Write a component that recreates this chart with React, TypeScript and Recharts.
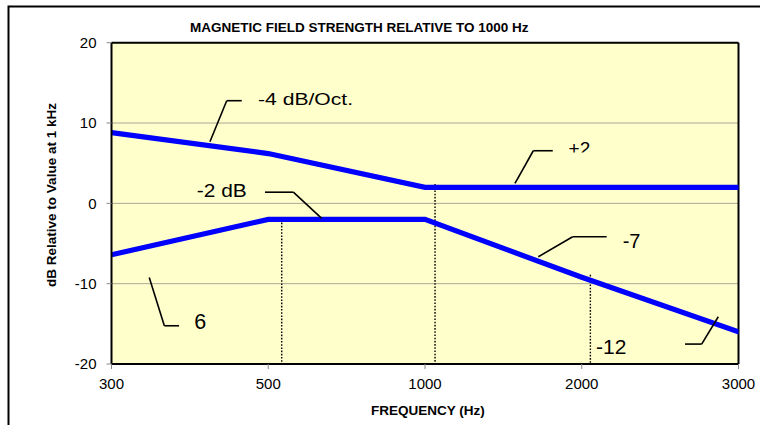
import React from 'react';
import {
  LineChart,
  Line,
  XAxis,
  YAxis,
  CartesianGrid,
  ReferenceLine,
  ReferenceDot,
} from 'recharts';

// ---------- data ----------
const frequencies = ['300', '500', '1000', '2000', '3000'];
const upperSeries = [8.8, 6.2, 2, 2, 2];
const lowerSeries = [-6.4, -2, -2, -9.2, -16];
const yTicks = [-20, -10, 0, 10, 20];
const xTicks = [0, 1, 2, 3, 4];

const chartTitle = 'MAGNETIC FIELD STRENGTH RELATIVE TO 1000 Hz';
const xTitle = 'FREQUENCY (Hz)';
const yTitle = 'dB Relative to Value at 1 kHz';

// annotations, in data space (x = category index, y = dB)
const calloutPaths: number[][][] = [
  [[0.628, 7.67], [0.735, 12.78], [0.831, 12.78]],
  [[0.979, 1.39], [1.16, 1.39], [1.341, -1.87]],
  [[2.574, 2.49], [2.691, 6.55], [2.815, 6.55]],
  [[2.723, -6.65], [2.942, -4.16], [3.159, -4.16]],
  [[0.241, -9.22], [0.337, -15.24], [0.431, -15.24]],
  [[3.871, -14.12], [3.765, -17.52], [3.659, -17.52]],
];
const annotationTexts = ['-4 dB/Oct.', '-2 dB', '+2', '-7', '6', '-12'];
const annotationX = [0.935, 0.544, 2.916, 3.261, 0.528, 3.091];
const annotationY = [12.24, 0.85, 6.05, -5.53, -15.69, -18.77];
const markerX = [1.086, 2.064, 3.055];
const markerTop = [-2, 2.4, -8.9];

// ---------- styles ----------
const FONT = '"Liberation Sans", Arial, Helvetica, sans-serif';
const annotationStyle: Record<string, { size: number; length?: number; clip?: number }> = {
  '-4 dB/Oct.': { size: 16.3, length: 95 },
  '-2 dB': { size: 18.7, length: 50 },
  '+2': { size: 19, clip: 2.2 },
  '-7': { size: 20 },
  '6': { size: 21.5 },
  '-12': { size: 21 },
};

const data = frequencies.map((f, i) => ({
  idx: i,
  freq: f,
  upper: upperSeries[i],
  lower: lowerSeries[i],
}));

const W = 760;
const H = 425;

export default function App() {
  return (
    <div style={{ position: 'relative', width: W, height: H, overflow: 'hidden' }}>
      <style>{'html,body{margin:0;padding:0;overflow:hidden;}'}</style>
      <LineChart
        width={W}
        height={H}
        data={data}
        margin={{ top: 42.7, right: 21.5, bottom: 31, left: 51.5 }}
      >
        <CartesianGrid
          vertical={false}
          horizontal={true}
          fill="#FFFFCC"
          fillOpacity={1}
          stroke="#a8a898"
          strokeWidth={1}
        />
        <XAxis
          dataKey="idx"
          type="number"
          domain={[0, 4]}
          ticks={xTicks}
          tickFormatter={(v: number) => frequencies[v]}
          height={30}
          axisLine={{ stroke: '#000', strokeWidth: 2 }}
          tickLine={{ stroke: '#888', strokeWidth: 1 }}
          tickSize={5}
          tickMargin={9}
          tick={{ fill: '#000', fontSize: 15, fontFamily: FONT }}
          interval={0}
          allowDataOverflow
        />
        <YAxis
          type="number"
          domain={[-20, 20]}
          ticks={yTicks}
          width={60}
          axisLine={{ stroke: '#000', strokeWidth: 2 }}
          tickLine={{ stroke: '#888', strokeWidth: 1 }}
          tickSize={5}
          tickMargin={10}
          tick={{ fill: '#000', fontSize: 15, fontFamily: FONT }}
          interval={0}
          allowDataOverflow
        />
        <ReferenceLine y={20} stroke="#000" strokeWidth={2} />
        <ReferenceLine x={4} stroke="#000" strokeWidth={2} />
        {markerX.map((mx, i) => (
          <ReferenceLine
            key={'m' + i}
            segment={[
              { x: mx, y: markerTop[i] },
              { x: mx, y: -20 },
            ]}
            stroke="#000"
            strokeWidth={1.4}
            strokeDasharray="1.6 1.6"
          />
        ))}
        <Line
          dataKey="upper"
          type="linear"
          stroke="#0000FF"
          strokeWidth={5.2}
          dot={false}
          activeDot={false}
          isAnimationActive={false}
          strokeLinecap="round"
        />
        <Line
          dataKey="lower"
          type="linear"
          stroke="#0000FF"
          strokeWidth={5.2}
          dot={false}
          activeDot={false}
          isAnimationActive={false}
          strokeLinecap="round"
        />
        {calloutPaths.flatMap((path, pi) =>
          path.slice(1).map((pt, si) => (
            <ReferenceLine
              key={'c' + pi + '-' + si}
              segment={[
                { x: path[si][0], y: path[si][1] },
                { x: pt[0], y: pt[1] },
              ]}
              stroke="#000"
              strokeWidth={1.6}
            />
          ))
        )}
        {annotationTexts.map((t, i) => {
          const st = annotationStyle[t];
          return (
            <ReferenceDot
              key={'t' + i}
              x={annotationX[i]}
              y={annotationY[i]}
              r={0}
              ifOverflow="visible"
              shape={(p: any) => {
                const clipId = 'clip-ann-' + i;
                return (
                  <g>
                    {st.clip !== undefined && (
                      <defs>
                        <clipPath id={clipId}>
                          <rect x={p.cx - 5} y={p.cy - 40} width={80} height={40 - st.clip} />
                        </clipPath>
                      </defs>
                    )}
                    <text
                      x={p.cx}
                      y={p.cy}
                      fontFamily={FONT}
                      fontSize={st.size}
                      fill="#000"
                      textLength={st.length}
                      lengthAdjust={st.length ? 'spacingAndGlyphs' : undefined}
                      clipPath={st.clip !== undefined ? `url(#${clipId})` : undefined}
                    >
                      {t}
                    </text>
                  </g>
                );
              }}
            />
          );
        })}
      </LineChart>
      <svg
        width={W}
        height={H}
        style={{ position: 'absolute', left: 0, top: 0, pointerEvents: 'none' }}
      >
        <path
          d={`M 8.5 ${H} L 8.5 6.5 L ${W} 6.5`}
          fill="none"
          stroke="#000"
          strokeWidth={2}
          strokeLinejoin="miter"
        />
        <text
          x={359.2}
          y={32.3}
          textAnchor="middle"
          fontFamily={FONT}
          fontWeight="bold"
          fontSize={13.5}
          fill="#000"
        >
          {chartTitle}
        </text>
        <text
          x={428}
          y={415}
          textAnchor="middle"
          fontFamily={FONT}
          fontWeight="bold"
          fontSize={13.5}
          fill="#000"
        >
          {xTitle}
        </text>
        <text
          x={56}
          y={195}
          textAnchor="middle"
          fontFamily={FONT}
          fontWeight="bold"
          fontSize={13.5}
          fill="#000"
          transform="rotate(-90 56 195)"
        >
          {yTitle}
        </text>
      </svg>
    </div>
  );
}
